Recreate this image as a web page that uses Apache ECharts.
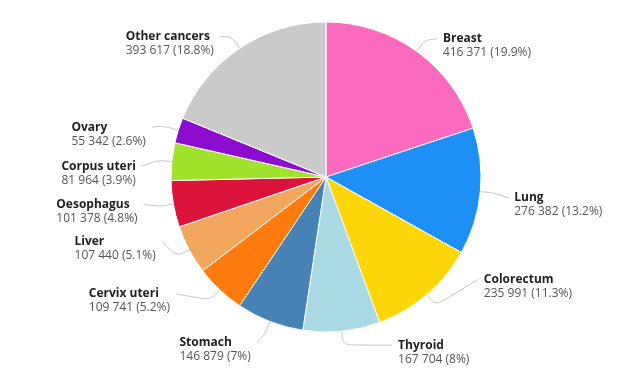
<!DOCTYPE html>
<html>
<head>
<meta charset="utf-8">
<style>
  html, body { margin: 0; padding: 0; background: #ffffff; }
  #chart { width: 643px; height: 392px; }
</style>
<script src="https://cdn.jsdelivr.net/npm/echarts@6/dist/echarts.min.js"></script>
</head>
<body>
<div id="chart"></div>
<script>
const categories = ['Breast', 'Lung', 'Colorectum', 'Thyroid', 'Stomach', 'Cervix uteri', 'Liver', 'Oesophagus', 'Corpus uteri', 'Ovary', 'Other cancers'];
const values = [416371, 276382, 235991, 167704, 146879, 109741, 107440, 101378, 81964, 55342, 393617];
const colors = ['#FB6ABF', '#1E8FF5', '#FFD60A', '#A9D9E3', '#4682B4', '#FF7B0D', '#F2A65E', '#DC143C', '#A1E22D', '#8E0CD0', '#CACACA'];
// label placement nudges (style only): [dx, dy] in px relative to library default
const labelNudge = [[-4, -1], [-2, 5], [26, -26], [33, 0], [8, 8], [-18, -6], [1, -15], [0, -2], [0, 6], [3, 1], [4, 0]];

const total = values.reduce(function (a, b) { return a + b; }, 0);

function fmtNum(v) {
  return String(v).replace(/\B(?=(\d{3})+(?!\d))/g, ' ');
}
function fmtPct(v) {
  return String(Number((v / total * 100).toFixed(1)));
}

const chart = echarts.init(document.getElementById('chart'), null, { renderer: 'canvas' });
chart.setOption({
  animation: false,
  backgroundColor: '#ffffff',
  series: [{
    type: 'pie',
    center: [326, 177],
    radius: 155,
    startAngle: 90,
    clockwise: true,
    avoidLabelOverlap: true,
    itemStyle: { borderColor: '#ffffff', borderWidth: 1 },
    label: {
      show: true,
      position: 'outside',
      fontFamily: 'Open Sans',
      padding: [14, 0, 0, 0],
      formatter: function (p) {
        return '{b|' + p.name + '}\n{v|' + fmtNum(p.value) + ' (' + fmtPct(p.value) + '%)}';
      },
      rich: {
        b: { fontFamily: 'Open Sans', fontSize: 12, fontWeight: 'bold', color: '#222222', lineHeight: 14, align: 'left' },
        v: { fontFamily: 'Open Sans', fontSize: 12, color: '#555555', lineHeight: 14, align: 'left' }
      }
    },
    labelLine: {
      show: true,
      length: 14,
      length2: 16,
      smooth: true,
      lineStyle: { color: '#c4c4c4', width: 1 }
    },
    labelLayout: function (p) {
      const pts = p.labelLinePoints;
      if (!pts || pts.length < 3) { return {}; }
      const n = labelNudge[p.dataIndex];
      const right = pts[2][0] >= pts[1][0];
      const end = [pts[2][0] + n[0], pts[2][1] + n[1]];
      return {
        x: end[0] + (right ? 6 : -6),
        y: end[1],
        align: right ? 'left' : 'right',
        verticalAlign: 'middle',
        labelLinePoints: [pts[0], pts[1], end]
      };
    },
    data: categories.map(function (c, i) {
      return { name: c, value: values[i], itemStyle: { color: colors[i] } };
    })
  }]
});
</script>
</body>
</html>
